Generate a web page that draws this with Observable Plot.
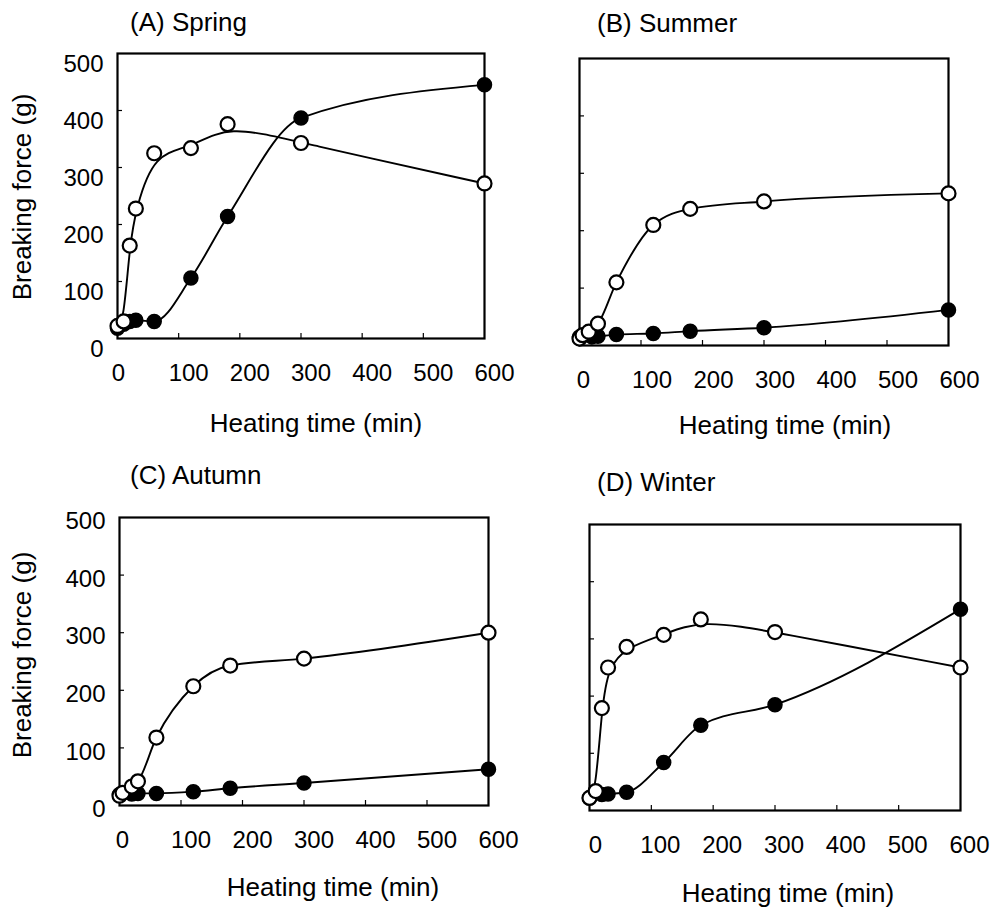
<!DOCTYPE html>
<html><head><meta charset="utf-8">
<script src="https://cdn.jsdelivr.net/npm/d3@7"></script>
<script src="https://cdn.jsdelivr.net/npm/@observablehq/plot@0.6"></script>
<style>
body{margin:0;background:#fff;}
#root{position:relative;width:995px;height:914px;background:#fff;font-family:"Liberation Sans",Arial,sans-serif;color:#000;overflow:hidden;}
.t{position:absolute;white-space:nowrap;font-size:26px;line-height:1;transform:translate(-50%,-50%);}
.ttl{position:absolute;white-space:nowrap;font-size:26px;line-height:1;transform:translateY(-50%);}
.panel{position:absolute;}
</style></head><body><div id="root"></div>
<script>
// ---- labels / ticks ----
const panelTitles = ["(A) Spring", "(B) Summer", "(C) Autumn", "(D) Winter"];
const xLabel = "Heating time (min)";
const yLabel = "Breaking force (g)";
const xTicks = [0, 100, 200, 300, 400, 500, 600];
const yTicks = [0, 100, 200, 300, 400, 500];

// ---- data: heating time (min) and breaking force (g) ----
// open circles
const springOpenT = [0, 10, 20, 30, 60, 120, 180, 300, 600];
const springOpenV = [22, 30, 163, 228, 325, 334, 376, 343, 272];
// filled circles
const springFillT = [0, 10, 20, 30, 60, 120, 180, 300, 600];
const springFillV = [18, 25, 30, 32, 30, 106, 214, 387, 445];

const summerOpenT = [0, 5, 15, 30, 60, 120, 180, 300, 600];
const summerOpenV = [12, 18, 24, 38, 110, 210, 238, 251, 265];
const summerFillT = [0, 20, 30, 60, 120, 180, 300, 600];
const summerFillV = [15, 15, 16, 19, 21, 25, 31, 62];

const autumnOpenT = [0, 5, 20, 30, 60, 120, 180, 300, 600];
const autumnOpenV = [17, 22, 33, 42, 118, 207, 243, 255, 300];
const autumnFillT = [0, 20, 30, 60, 120, 180, 300, 600];
const autumnFillV = [19, 20, 21, 21, 24, 30, 39, 63];

const winterOpenT = [0, 10, 20, 30, 60, 120, 180, 300, 600];
const winterOpenV = [22, 34, 179, 250, 286, 307, 334, 312, 250];
const winterFillT = [0, 20, 30, 60, 120, 180, 300, 600];
const winterFillV = [22, 28, 29, 32, 84, 149, 185, 352];

const root = document.getElementById("root");

function addText(cls, txt, x, y, rot) {
  const d = document.createElement("div");
  d.className = cls;
  d.textContent = txt;
  d.style.left = x + "px";
  d.style.top = y + "px";
  if (rot) d.style.transform = "translate(-50%,-50%) rotate(-90deg)";
  root.appendChild(d);
}

function panel(o) {
  const open = o.openT.map((t, i) => ({t, v: o.openV[i]}));
  const fill = o.fillT.map((t, i) => ({t, v: o.fillV[i]}));
  const fw = o.width - o.mL - o.mR;
  const fh = o.height - o.mT - o.mB;
  const marks = [
    Plot.axisX([0], {tickSize: 0, tickPadding: 25, dx: o.dx0, fontSize: 24, label: null}),
    Plot.axisX(xTicks.slice(1), {tickSize: 0, tickPadding: 25, dx: o.dx, fontSize: 24, label: null}),
    Plot.tickX(xTicks.slice(1, -1), {x: d => d, insetTop: fh - 5, strokeWidth: 1.2}),
    Plot.tickY(yTicks.slice(1, -1), {y: d => d, insetRight: fw - 5, strokeWidth: 1.2}),
    Plot.frame({strokeWidth: 2.2}),
    Plot.line(fill, {x: "t", y: "v", curve: o.fillCurve, strokeWidth: 1.9}),
    Plot.line(open, {x: "t", y: "v", curve: o.openCurve, strokeWidth: 1.9}),
    Plot.dot(fill, {x: "t", y: "v", r: 7, fill: "black", stroke: "black", strokeWidth: 1.5}),
    Plot.dot(open, {x: "t", y: "v", r: 7, fill: "white", stroke: "black", strokeWidth: 2.2})
  ];
  if (o.yLabels) marks.push(Plot.axisY(yTicks, {tickSize: 0, tickPadding: 14, dy: o.dy, fontSize: 24, label: null}));
  const p = Plot.plot({
    width: o.width, height: o.height,
    marginLeft: o.mL, marginRight: o.mR, marginTop: o.mT, marginBottom: o.mB,
    style: {fontFamily: "'Liberation Sans', Arial, sans-serif", fontSize: "24px", color: "#000", background: "transparent", overflow: "visible"},
    x: {domain: [0, 600]},
    y: {domain: [0, 500], axis: o.yLabels ? undefined : null},
    marks
  });
  p.classList.add("panel");
  p.style.left = o.left + "px";
  p.style.top = o.top + "px";
  root.appendChild(p);
}

panel({openT: springOpenT, openV: springOpenV, fillT: springFillT, fillV: springFillV, openCurve: "basis", fillCurve: "monotone-x",
  left: 0, top: 0, width: 497, height: 450, mL: 117, mR: 13, mT: 53, mB: 112, yLabels: true, dy: 11, dx0: 1, dx: 10});
panel({openT: summerOpenT, openV: summerOpenV, fillT: summerFillT, fillV: summerFillV, openCurve: "monotone-x", fillCurve: "monotone-x",
  left: 497, top: 0, width: 498, height: 450, mL: 82, mR: 47, mT: 58, mB: 105, yLabels: false, dx0: 4, dx: 11});
panel({openT: autumnOpenT, openV: autumnOpenV, fillT: autumnFillT, fillV: autumnFillV, openCurve: "monotone-x", fillCurve: "monotone-x",
  left: 0, top: 450, width: 497, height: 464, mL: 119, mR: 9, mT: 67, mB: 109, yLabels: true, dy: 4, dx0: 3, dx: 10});
panel({openT: winterOpenT, openV: winterOpenV, fillT: winterFillT, fillV: winterFillV, openCurve: "basis", fillCurve: "monotone-x",
  left: 497, top: 450, width: 498, height: 464, mL: 92, mR: 35, mT: 74, mB: 104, yLabels: false, dx0: 6, dx: 9});

addText("ttl", panelTitles[0], 130, 22);
addText("ttl", panelTitles[1], 597, 23);
addText("ttl", panelTitles[2], 130, 475);
addText("ttl", panelTitles[3], 597, 482);
addText("t", xLabel, 316, 423);
addText("t", xLabel, 785, 425);
addText("t", xLabel, 333, 887);
addText("t", xLabel, 788, 893);
addText("t", yLabel, 22, 197, true);
addText("t", yLabel, 22, 655, true);
</script>
</body></html>
